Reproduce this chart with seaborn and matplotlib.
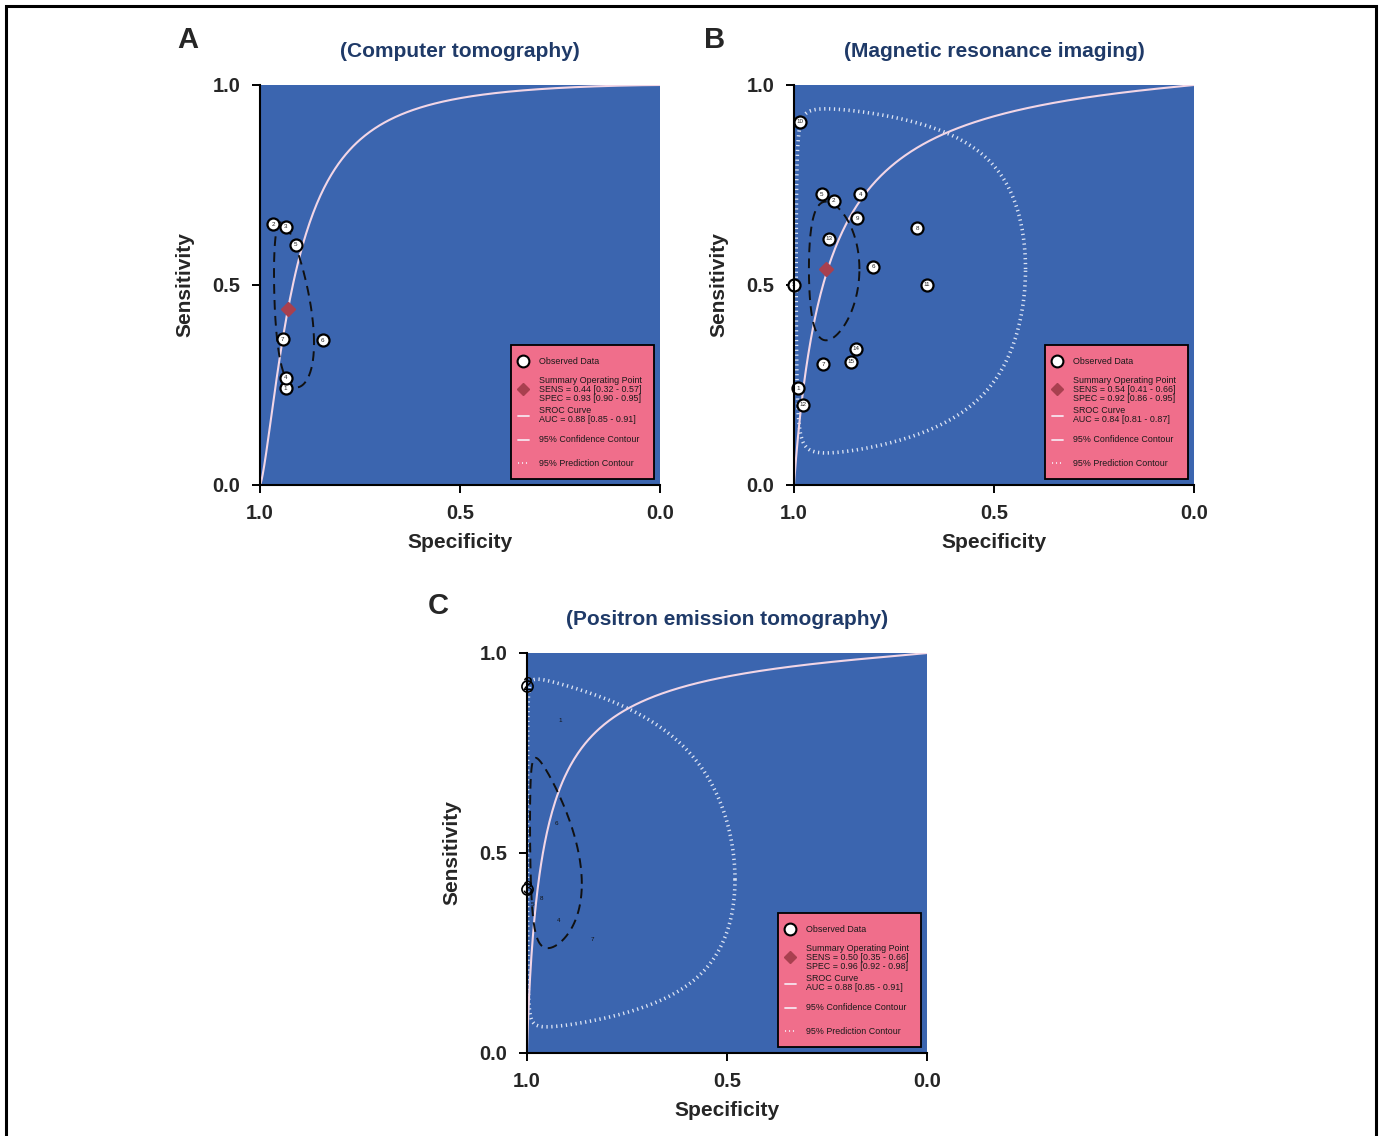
import numpy as np
import pandas as pd
import matplotlib
matplotlib.use("Agg")
import matplotlib.pyplot as plt
from matplotlib.patches import Rectangle
import seaborn as sns

# ---------------- data ----------------
# Panel A : Computer tomography
ct_labels = ["1", "2", "3", "4", "5", "6", "7"]
ct_spec = [0.936, 0.967, 0.935, 0.935, 0.911, 0.843, 0.943]
ct_sens = [0.242, 0.652, 0.646, 0.268, 0.600, 0.362, 0.364]
ct_summary = (0.93, 0.44)          # (spec, sens)
ct_sroc = (3.38, 1.40)             # logit(sens) = a + b*logit(1-spec)
ct_conf = (-2.587, -0.241, 0.73, 0.89, -0.40)   # cx, cy, sx, sy, rho (logit space)
ct_texts = ("SENS = 0.44 [0.32 - 0.57]", "SPEC = 0.93 [0.90 - 0.95]", "AUC = 0.88 [0.85 - 0.91]")

# Panel B : Magnetic resonance imaging
mr_labels = [str(i) for i in range(1, 16)]
mr_spec = [0.989, 0.901, 1.000, 0.834, 0.931, 0.802, 0.927, 0.6925,
           0.842, 0.985, 0.6675, 0.978, 0.912, 0.845, 0.858]
mr_sens = [0.242, 0.710, 0.500, 0.727, 0.7275, 0.546, 0.3025, 0.6425,
           0.667, 0.908, 0.500, 0.200, 0.615, 0.340, 0.308]
mr_summary = (0.92, 0.54)
mr_sroc = (2.467, 0.968)
mr_conf = (-2.442, 0.160, 0.81, 0.728, 0.0)
mr_pred = (-2.442, 0.160, 2.76, 2.60, 0.0)
mr_texts = ("SENS = 0.54 [0.41 - 0.66]", "SPEC = 0.92 [0.86 - 0.95]", "AUC = 0.84 [0.81 - 0.87]")

# Panel C : Positron emission tomography
pet_labels = ["1", "2", "3", "4", "5", "6", "7", "8"]
pet_spec = [0.9175, 1.000, 1.000, 0.920, 0.987, 0.926, 0.837, 0.963]
pet_sens = [0.832, 0.9175, 0.409, 0.332, 0.370, 0.573, 0.284, 0.387]
pet_sroc = (2.77, 0.87)
pet_conf = (-3.36, 0.0, 1.52, 1.035, -0.30)
pet_pred = (-3.30, 0.0, 3.38, 2.66, -0.10)
pet_texts = ("SENS = 0.50 [0.35 - 0.66]", "SPEC = 0.96 [0.92 - 0.98]", "AUC = 0.88 [0.85 - 0.91]")

titles = ["(Computer tomography)", "(Magnetic resonance imaging)", "(Positron emission tomography)"]
panel_letters = ["A", "B", "C"]
tick_vals = [1.0, 0.5, 0.0]
tick_labels = ["1.0", "0.5", "0.0"]

# ---------------- style ----------------
sns.set_style("ticks")
plt.rcParams["font.family"] = ["Liberation Sans", "DejaVu Sans"]

BLUE = "#3B65AF"
PINK = "#F06E8B"
SROC_COL = "#F2D6E6"
DIAM = "#A8404F"
TITLE_COL = "#1F3A68"


def expit(v):
    return 1.0 / (1.0 + np.exp(-v))


def logit(p):
    return np.log(p / (1.0 - p))


def sroc_frame(params):
    a, b = params
    fpr = np.concatenate([np.logspace(-6, -1, 200), np.linspace(0.1, 1 - 1e-6, 300)])
    sens = expit(a + b * logit(fpr))
    return pd.DataFrame({"spec": 1 - fpr, "sens": sens})


def ellipse_frame(params):
    cx, cy, sx, sy, rho = params
    t = np.linspace(0, 2 * np.pi, 600)
    lx = cx + sx * np.cos(t)
    ly = cy + sy * (rho * np.cos(t) + np.sqrt(1 - rho ** 2) * np.sin(t))
    return pd.DataFrame({"spec": 1 - expit(lx), "sens": expit(ly)})


def style_axes(ax, title):
    ax.set_facecolor(BLUE)
    ax.set_xlim(1, 0)
    ax.set_ylim(0, 1)
    for s in ["top", "right"]:
        ax.spines[s].set_visible(False)
    for s in ["left", "bottom"]:
        ax.spines[s].set_color("black")
        ax.spines[s].set_linewidth(1.5)
        ax.spines[s].set_zorder(10)
    ax.set_xticks(tick_vals)
    ax.set_xticklabels(tick_labels)
    ax.set_yticks(tick_vals[::-1])
    ax.set_yticklabels(tick_labels[::-1])
    ax.tick_params(axis="both", direction="out", length=6, width=1.4, color="black",
                   pad=8, labelsize=14.5)
    ax.tick_params(axis="x", pad=7.5)
    for lab in ax.get_xticklabels() + ax.get_yticklabels():
        lab.set_fontweight("bold")
    ax.set_xlabel("Specificity", fontsize=15, fontweight="bold", labelpad=7.5)
    ax.set_ylabel("Sensitivity", fontsize=15, fontweight="bold", labelpad=13)
    ax.set_title(title, fontsize=15, fontweight="bold", color=TITLE_COL, pad=20)


def draw_legend(ax, texts):
    sens_t, spec_t, auc_t = texts
    ax.add_patch(Rectangle((0.6275, 0.015), 0.3575, 0.335, transform=ax.transAxes,
                           facecolor=PINK, edgecolor="black", linewidth=1.3, zorder=20))
    tx = 0.6975
    kw = dict(transform=ax.transAxes, fontsize=6.4, color="#1a1a1a", va="center",
              ha="left", zorder=22, linespacing=1.0)
    ax.plot([0.6575], [0.31], marker="o", ms=8.5, mfc="white", mec="black", mew=1.5,
            transform=ax.transAxes, zorder=22, clip_on=False, ls="none")
    ax.text(tx, 0.31, "Observed Data", **kw)
    ax.plot([0.6575], [0.24], marker="D", ms=6.5, mfc=DIAM, mec=DIAM,
            transform=ax.transAxes, zorder=22, clip_on=False, ls="none")
    ax.text(tx, 0.238, "Summary Operating Point\n" + sens_t + "\n" + spec_t, **kw)
    ax.plot([0.645, 0.672], [0.172, 0.172], color="#F6E4EE", lw=1.3,
            transform=ax.transAxes, zorder=22, clip_on=False)
    ax.text(tx, 0.174, "SROC Curve\n" + auc_t, **kw)
    ax.plot([0.645, 0.672], [0.1125, 0.1125], color="#F6E4EE", lw=1.3,
            transform=ax.transAxes, zorder=22, clip_on=False)
    ax.text(tx, 0.1125, "95% Confidence Contour", **kw)
    ax.plot([0.645, 0.672], [0.055, 0.055], color="#F6E4EE", lw=1.3,
            ls=(0, (0.6, 1.6)), transform=ax.transAxes, zorder=22, clip_on=False)
    ax.text(tx, 0.055, "95% Prediction Contour", **kw)


def draw_curves(ax, sroc, conf, pred=None):
    sns.lineplot(data=sroc_frame(sroc), x="spec", y="sens", sort=False, estimator=None,
                 color=SROC_COL, lw=1.5, ax=ax, zorder=3)
    if pred is not None:
        sns.lineplot(data=ellipse_frame(pred), x="spec", y="sens", sort=False, estimator=None,
                     color="#DCE4F4", lw=2.6, ls=(0, (0.35, 1.0)), ax=ax, zorder=2)
    sns.lineplot(data=ellipse_frame(conf), x="spec", y="sens", sort=False, estimator=None,
                 color="#111111", lw=1.4, ls=(0, (5, 3.2)), ax=ax, zorder=4)


def draw_points(ax, spec, sens, labels):
    df = pd.DataFrame({"spec": spec, "sens": sens})
    sns.scatterplot(data=df, x="spec", y="sens", s=75, color="white", edgecolor="black",
                    linewidth=1.6, ax=ax, zorder=6, clip_on=False)
    for x, y, l in zip(spec, sens, labels):
        ax.text(x, y, l, fontsize=4.5, ha="center", va="center", color="#222222",
                zorder=7, clip_on=False)


fig = plt.figure(figsize=(13.81, 11.36), dpi=100)
W, H = 1381.0, 1136.0


def add_ax(x0, y_top):
    return fig.add_axes([x0 / W, (H - y_top - 400) / H, 400 / W, 400 / H])


axA = add_ax(260, 85)
axB = add_ax(794, 85)
axC = add_ax(527, 653)

# Panel A
draw_curves(axA, ct_sroc, ct_conf)
axA.plot([ct_summary[0]], [ct_summary[1]], marker="D", ms=7, color=DIAM, zorder=5, ls="none")
draw_points(axA, ct_spec, ct_sens, ct_labels)
style_axes(axA, titles[0])
draw_legend(axA, ct_texts)

# Panel B
draw_curves(axB, mr_sroc, mr_conf, mr_pred)
axB.plot([mr_summary[0]], [mr_summary[1]], marker="D", ms=7, color=DIAM, zorder=5, ls="none")
draw_points(axB, mr_spec, mr_sens, mr_labels)
style_axes(axB, titles[1])
draw_legend(axB, mr_texts)

# Panel C
draw_curves(axC, pet_sroc, pet_conf, pet_pred)
for x, y, l in zip(pet_spec, pet_sens, pet_labels):
    if x >= 0.999:
        axC.plot([x], [y], marker="o", ms=8, mfc="none", mec="black", mew=1.2,
                 zorder=6, clip_on=False, ls="none")
        axC.text(x, y, l, fontsize=13, ha="center", va="center", color="black",
                 zorder=7, clip_on=False)
    else:
        axC.text(x, y, l, fontsize=4.5, ha="center", va="center", color="#111111", zorder=7)
style_axes(axC, titles[2])
draw_legend(axC, pet_texts)

# panel letters
fig.text(188 / W, 1 - 40 / H, panel_letters[0], fontsize=21, fontweight="bold", ha="center", va="center")
fig.text(715 / W, 1 - 40 / H, panel_letters[1], fontsize=21, fontweight="bold", ha="center", va="center")
fig.text(438 / W, 1 - 606 / H, panel_letters[2], fontsize=21, fontweight="bold", ha="center", va="center")

# outer frame
fig.patches.append(Rectangle((5.5 / W, -0.02), (1376 - 5.5) / W, 1.02 - 5.5 / H,
                             transform=fig.transFigure, fill=False, edgecolor="black",
                             linewidth=2.2, zorder=100))

fig.savefig("out.png", dpi=100, facecolor="white")
